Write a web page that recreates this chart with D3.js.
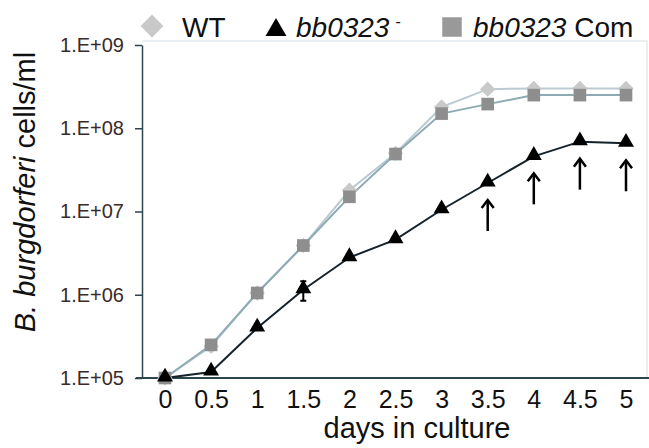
<!DOCTYPE html>
<html lang="en">
<head>
  <meta charset="UTF-8">
  <title>B. burgdorferi growth curve</title>
  <script src="https://d3js.org/d3.v7.min.js"></script>
</head>
<style>
  body { margin: 0; padding: 0; background: #fff; }
  svg { display: block; font-family: "Liberation Sans", Arial, sans-serif; }
</style>
<body>
<div id="chart"></div>
<script>
  // days sampled
  var days = [0, 0.5, 1, 1.5, 2, 2.5, 3, 3.5, 4, 4.5, 5];
  var dayLabels = ['0', '0.5', '1', '1.5', '2', '2.5', '3', '3.5', '4', '4.5', '5'];
  // cells/ml
  var wtValues  = [1e5, 2.4e5, 1.05e6, 3.9e6, 1.8e7, 5e7, 1.8e8, 2.95e8, 3.0e8, 3.0e8, 3.0e8];
  var mutValues = [1e5, 1.18e5, 4e5, 1.15e6, 2.8e6, 4.6e6, 1.05e7, 2.2e7, 4.6e7, 6.9e7, 6.6e7];
  var comValues = [1e5, 2.5e5, 1.05e6, 3.9e6, 1.5e7, 4.9e7, 1.5e8, 1.95e8, 2.5e8, 2.5e8, 2.5e8];
  // error bar (only visible one, day 1.5 of the mutant)
  var mutErr    = [0, 0, 0, 0.3e6, 0, 0, 0, 0, 0, 0, 0];
  var arrowDays = [3.5, 4, 4.5, 5];
  var yTicks = [1e5, 1e6, 1e7, 1e8, 1e9];
  var yTickLabels = ['1.E+05', '1.E+06', '1.E+07', '1.E+08', '1.E+09'];

  var width = 649, height = 448;
  var svg = d3.select('#chart').append('svg')
    .attr('width', width).attr('height', height);

  var x = d3.scaleLinear().domain([0, 5]).range([165, 626]);
  var y = d3.scaleLog().domain([1e5, 1e9]).range([378, 45]);

  // faint plot frame
  svg.append('path')
    .attr('d', 'M142,41H647V378')
    .attr('fill', 'none').attr('stroke', '#e2eaee').attr('stroke-width', 1.5);

  // y axis
  var yAxis = d3.axisLeft(y).tickValues(yTicks)
    .tickFormat(function(d, i) { return yTickLabels[i]; })
    .tickSize(7).tickPadding(11).tickSizeOuter(0);
  var gy = svg.append('g').attr('transform', 'translate(142,0)').call(yAxis);
  gy.select('.domain').attr('stroke', '#2b4650').attr('stroke-width', 1.5);
  gy.selectAll('.tick line').attr('stroke', '#2b4650').attr('stroke-width', 1.5);
  gy.selectAll('.tick text').attr('font-size', 20).attr('fill', '#3a2a28')
    .attr('font-family', '"Liberation Sans", Arial, sans-serif');

  // x axis
  var xAxis = d3.axisBottom(x).tickValues(days)
    .tickFormat(function(d, i) { return dayLabels[i]; })
    .tickSize(0).tickPadding(12);
  var gx = svg.append('g').attr('transform', 'translate(0,378)').call(xAxis);
  gx.select('.domain').remove();
  gx.append('line').attr('x1', 136).attr('x2', 649).attr('y1', 0).attr('y2', 0)
    .attr('stroke', '#2b4650').attr('stroke-width', 2.2);
  gx.selectAll('.tick text').attr('font-size', 25).attr('fill', '#111')
    .attr('font-family', '"Liberation Sans", Arial, sans-serif');

  // axis titles
  svg.append('text').attr('x', 417).attr('y', 438).attr('text-anchor', 'middle')
    .attr('font-size', 29).attr('fill', '#111').text('days in culture');

  var yt = svg.append('text').attr('transform', 'translate(35,192) rotate(-90)')
    .attr('text-anchor', 'middle').attr('font-size', 29).attr('fill', '#111');
  yt.append('tspan').attr('font-style', 'italic').text('B. burgdorferi');
  yt.append('tspan').text(' cells/ml');

  var line = d3.line()
    .x(function(d, i) { return x(days[i]); })
    .y(function(d) { return y(d); });

  // lines
  svg.append('path').datum(wtValues).attr('d', line)
    .attr('fill', 'none').attr('stroke', '#b9cbd1').attr('stroke-width', 2);
  svg.append('path').datum(comValues).attr('d', line)
    .attr('fill', 'none').attr('stroke', '#8eaab3').attr('stroke-width', 2);
  svg.append('path').datum(mutValues).attr('d', line)
    .attr('fill', 'none').attr('stroke', '#15222a').attr('stroke-width', 2);

  // error bars on mutant
  svg.selectAll('.err').data(mutValues).enter()
    .filter(function(d, i) { return mutErr[i] > 0; })
    .append('path')
    .attr('d', function(d) {
      var k = mutValues.indexOf(d);
      var cx = x(days[k]);
      var y1 = y(d + mutErr[k]), y2 = y(d - mutErr[k]);
      return 'M' + cx + ',' + y1 + 'V' + y2 + 'M' + (cx - 3) + ',' + y1 + 'H' + (cx + 3) +
        'M' + (cx - 3) + ',' + y2 + 'H' + (cx + 3);
    })
    .attr('stroke', '#000').attr('stroke-width', 2).attr('fill', 'none');

  // markers
  var diamond = d3.symbol().type(d3.symbolDiamond2).size(150);
  var square = d3.symbol().type(d3.symbolSquare).size(160);
  var triangle = d3.symbol().type(d3.symbolTriangle).size(110);

  svg.selectAll('.wt').data(wtValues).enter().append('path')
    .attr('d', diamond)
    .attr('transform', function(d, i) { return 'translate(' + x(days[i]) + ',' + y(d) + ')'; })
    .attr('fill', '#c9c9c9');
  svg.selectAll('.com').data(comValues).enter().append('path')
    .attr('d', square)
    .attr('transform', function(d, i) { return 'translate(' + x(days[i]) + ',' + y(d) + ')'; })
    .attr('fill', '#8e8e8e');
  svg.selectAll('.mut').data(mutValues).enter().append('path')
    .attr('d', triangle)
    .attr('transform', function(d, i) { return 'translate(' + x(days[i]) + ',' + (y(d) - 1) + ')'; })
    .attr('fill', '#000');

  // arrows under the mutant points
  var arrowG = svg.selectAll('.arrow').data(arrowDays).enter().append('g')
    .attr('transform', function(d) {
      var k = days.indexOf(d);
      return 'translate(' + x(d) + ',' + (y(mutValues[k]) + 16) + ')';
    });
  arrowG.append('line').attr('x1', 0).attr('x2', 0).attr('y1', 3).attr('y2', 32)
    .attr('stroke', '#000').attr('stroke-width', 2.5);
  arrowG.append('path').attr('d', 'M-6,9L0,1L6,9')
    .attr('fill', 'none').attr('stroke', '#000').attr('stroke-width', 2.5);

  // legend
  var leg = svg.append('g');
  leg.append('path').attr('d', d3.symbol().type(d3.symbolDiamond2).size(330))
    .attr('transform', 'translate(152,26)').attr('fill', '#c9c9c9');
  leg.append('text').attr('x', 182).attr('y', 37).attr('font-size', 28).attr('fill', '#111').text('WT');
  leg.append('path').attr('d', d3.symbol().type(d3.symbolTriangle).size(190))
    .attr('transform', 'translate(276,30)').attr('fill', '#000');
  var t2 = leg.append('text').attr('x', 296).attr('y', 37).attr('font-size', 28).attr('fill', '#111');
  t2.append('tspan').attr('font-style', 'italic').text('bb0323');
  t2.append('tspan').attr('font-size', 16).attr('dx', 6).attr('dy', -10).text('-');
  leg.append('path').attr('d', d3.symbol().type(d3.symbolSquare).size(380))
    .attr('transform', 'translate(452,27)').attr('fill', '#999');
  var t3 = leg.append('text').attr('x', 473).attr('y', 37).attr('font-size', 28).attr('fill', '#111');
  t3.append('tspan').attr('font-style', 'italic').text('bb0323');
  t3.append('tspan').text(' Com');
</script>
</body>
</html>
